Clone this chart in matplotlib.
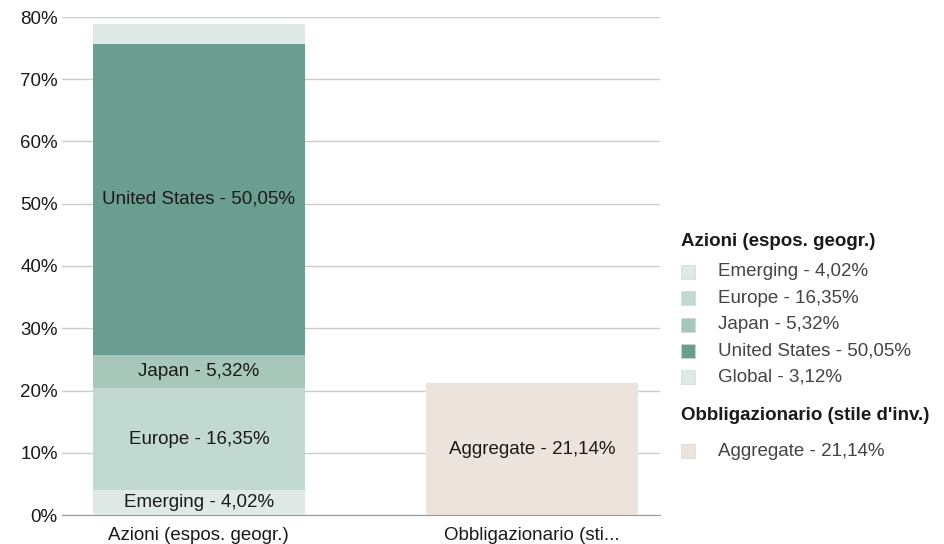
import matplotlib.pyplot as plt
from matplotlib.patches import Rectangle

plt.rcParams['font.family'] = ['Liberation Sans', 'DejaVu Sans']

categories = ['Azioni (espos. geogr.)', 'Obbligazionario (sti...']
group_titles = ['Azioni (espos. geogr.)', "Obbligazionario (stile d'inv.)"]

equity_names = ['Emerging', 'Europe', 'Japan', 'United States', 'Global']
equity_values = [4.02, 16.35, 5.32, 50.05, 3.12]
equity_colors = ['#dfe9e5', '#c2d9d1', '#a6c7ba', '#6b9e90', '#dfe9e5']
equity_show_label = [True, True, True, True, False]

bond_names = ['Aggregate']
bond_values = [21.14]
bond_colors = ['#ece3dc']

yticks = [0, 10, 20, 30, 40, 50, 60, 70, 80]

FS = 13.5


def fmt(v):
    return ('%.2f' % v).replace('.', ',') + '%'


fig = plt.figure(figsize=(9.44, 5.44), dpi=100)
ax = fig.add_axes([62 / 944, 29 / 544, 598 / 944, 498 / 544])

width = 0.637
bottom = 0
for name, val, col, show in zip(equity_names, equity_values, equity_colors, equity_show_label):
    ax.bar(0, val, width, bottom=bottom, color=col, zorder=2)
    if show:
        ax.text(0, bottom + val / 2, name + ' - ' + fmt(val), ha='center', va='center',
                fontsize=FS, color='#1a1a1a', zorder=3)
    bottom += val

bottom = 0
for name, val, col in zip(bond_names, bond_values, bond_colors):
    ax.bar(1, val, width, bottom=bottom, color=col, zorder=2)
    ax.text(1, bottom + val / 2, name + ' - ' + fmt(val), ha='center', va='center',
            fontsize=FS, color='#1a1a1a', zorder=3)
    bottom += val

ax.set_xlim(-0.411, 1.385)
ax.set_ylim(0, 80)
ax.set_yticks(yticks)
ax.set_yticklabels(['%d%%' % t for t in yticks])
ax.set_xticks([0, 1])
ax.set_xticklabels(categories)
ax.tick_params(axis='both', length=0, labelsize=FS, colors='#1a1a1a')
ax.tick_params(axis='y', pad=3)
ax.tick_params(axis='x', pad=9)
ax.grid(axis='y', color='#cccccc', linewidth=1, zorder=0)
for s in ['top', 'right', 'left']:
    ax.spines[s].set_visible(False)
ax.spines['bottom'].set_color('#999999')
ax.spines['bottom'].set_zorder(4)

# legend drawn by hand
W, H = 944, 544


def fy(y):
    return 1 - y / H


fig.text(681 / W, fy(241), group_titles[0], fontsize=FS, fontweight='bold',
         va='center', ha='left', color='#1a1a1a')
y = 272
for name, val, col in zip(equity_names, equity_values, equity_colors):
    fig.patches.append(Rectangle((681 / W, fy(y + 7)), 14 / W, 14 / H, transform=fig.transFigure,
                                 facecolor=col, edgecolor='#d0d8d5', linewidth=0.5))
    fig.text(718 / W, fy(y), name + ' - ' + fmt(val), fontsize=FS, va='center', ha='left',
             color='#444444')
    y += 26.3

fig.text(681 / W, fy(415), group_titles[1], fontsize=FS, fontweight='bold',
         va='center', ha='left', color='#1a1a1a')
y = 451
for name, val, col in zip(bond_names, bond_values, bond_colors):
    fig.patches.append(Rectangle((681 / W, fy(y + 7)), 14 / W, 14 / H, transform=fig.transFigure,
                                 facecolor=col, edgecolor='#ddd5cf', linewidth=0.5))
    fig.text(718 / W, fy(y), name + ' - ' + fmt(val), fontsize=FS, va='center', ha='left',
             color='#444444')

fig.savefig('out.png', dpi=100)
